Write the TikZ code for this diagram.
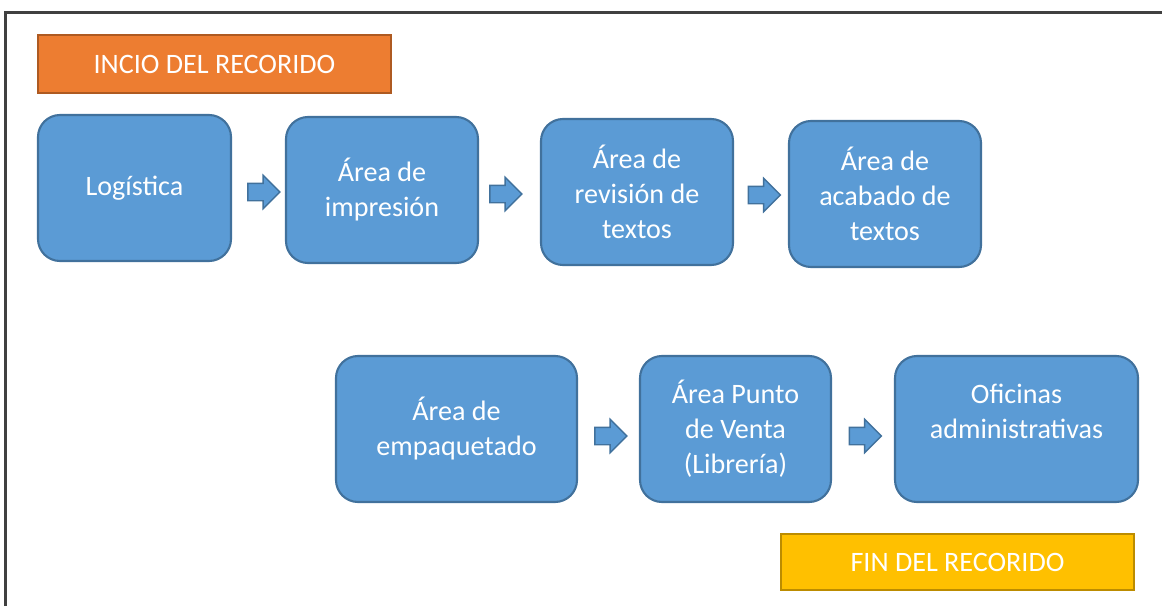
\documentclass[tikz,border=0pt]{standalone}
\usepackage{fontspec}
\setmainfont{Carlito}
\usetikzlibrary{calc,shapes.arrows}
\definecolor{areablue}{HTML}{5B9BD5}
\definecolor{arealine}{HTML}{41719C}
\definecolor{iniorange}{HTML}{ED7D31}
\definecolor{iniline}{HTML}{AE5A21}
\definecolor{fingold}{HTML}{FFC000}
\definecolor{finline}{HTML}{BC8C00}
\newcommand{\pxu}{0.02cm}

\begin{document}
\begin{tikzpicture}[x=0.02cm,y=0.02cm,
    area/.style={draw=arealine,fill=areablue,line width=1.2pt,rounded corners=0.44cm,
      text=white,align=center,inner sep=0pt,minimum height=146*\pxu,
      font=\fontsize{16}{19.9}\selectfont},
    banner/.style={line width=1pt,text=white,inner sep=0pt,
      minimum width=353*\pxu,font=\fontsize{16}{19.9}\selectfont},
    flecha/.style={single arrow,draw=arealine,fill=areablue,line width=0.8pt,
      inner xsep=0pt,inner ysep=8*\pxu,minimum height=32*\pxu,
      single arrow head extend=8*\pxu}]
    \useasboundingbox (0,0) rectangle (1162,606);
    \draw[line width=1.5pt,black!75] (5.5,0) |- (1162,593.5);

    \node[banner,draw=iniline,fill=iniorange,minimum height=58*\pxu] (inicio) at (214.5,542) {INCIO DEL RECORIDO};

    % primera fila
    \node[area,minimum width=193*\pxu] (logistica) at (134.5,418) {Logística};
    \node[area,minimum width=192*\pxu] (impresion) at (382,416) {Área de\\impresión};
    \node[area,minimum width=192*\pxu] (revision) at (637,414) {Área de\\revisión de\\textos};
    \node[area,minimum width=192*\pxu] (acabado) at (885,412) {Área de\\acabado de\\textos};

    % segunda fila
    \node[area,minimum width=241*\pxu] (empaquetado) at (456.5,177) {Área de\\empaquetado};
    \node[area,minimum width=191*\pxu] (venta) at (735.5,177) {Área Punto\\de Venta\\(Librería)};
    \node[area,minimum width=243*\pxu] (oficinas) at (1016.5,177) {Oficinas\\administrativas\\\mbox{}};

    \node[banner,draw=finline,fill=fingold,minimum height=56*\pxu] (fin) at (957.5,44) {FIN DEL RECORIDO};

    \foreach \a/\b/\dx/\dy in {logistica/impresion/1/-3,impresion/revision/-8/-3,revision/acabado/-1/-2,
        empaquetado/venta/-2/-7,venta/oficinas/-2/-7} {
        \node[flecha] (f-\a) at ($(\a.east)!0.5!(\b.west)+(\dx,\dy)$) {};
    }
\end{tikzpicture}
\end{document}
